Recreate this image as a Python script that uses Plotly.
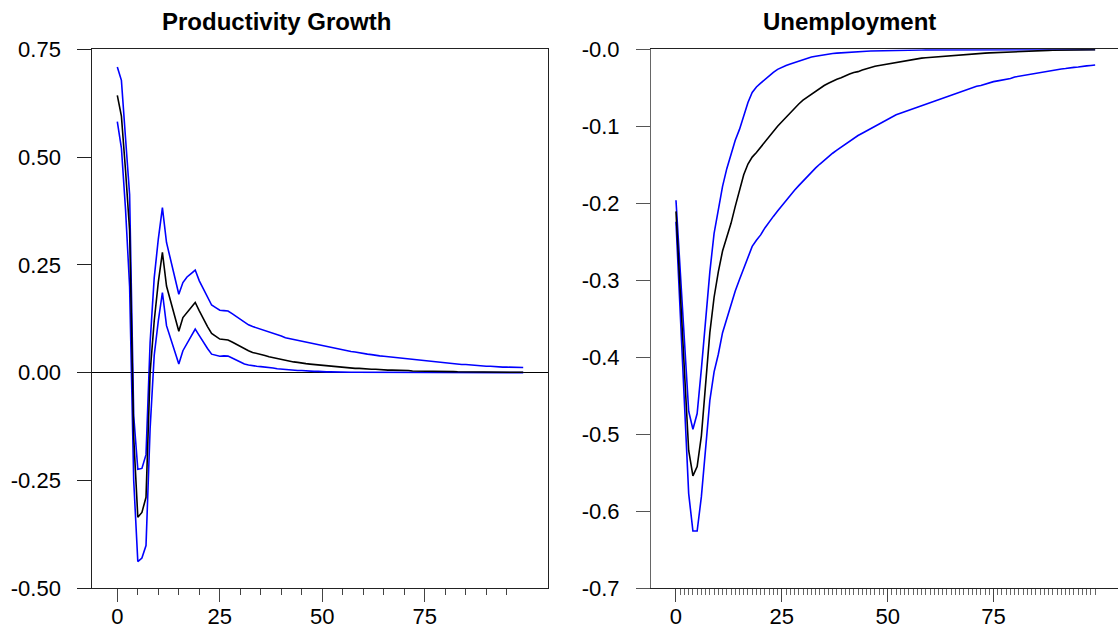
import plotly.graph_objects as go

# Horizon (periods after the shock)
horizon = list(range(100))

# Productivity growth: point response and error band
prod_resp = [
    0.643, 0.595, 0.470, 0.330, -0.150, -0.335, -0.324, -0.289, 0.000, 0.120,
    0.210, 0.279, 0.201, 0.166, 0.131, 0.096, 0.128, 0.140, 0.152, 0.163,
    0.1435, 0.124, 0.107, 0.091, 0.084, 0.078, 0.077, 0.0757, 0.071, 0.066,
    0.060, 0.055, 0.051, 0.047, 0.045, 0.043, 0.040, 0.037, 0.035, 0.032,
    0.030, 0.028, 0.027, 0.025, 0.024, 0.022, 0.021, 0.020, 0.019, 0.018,
    0.017, 0.016, 0.015, 0.014, 0.013, 0.012, 0.012, 0.011, 0.010, 0.010,
    0.009, 0.009, 0.008, 0.008, 0.007, 0.007, 0.006, 0.006, 0.006, 0.005,
    0.005, 0.005, 0.004, 0.004, 0.004, 0.004, 0.003, 0.003, 0.003, 0.003,
    0.003, 0.0025, 0.0025, 0.0022, 0.002, 0.002, 0.0018, 0.0017, 0.0016, 0.0015,
    0.0015, 0.0014, 0.0013, 0.0012, 0.0011, 0.001, 0.001, 0.001, 0.001, 0.001,
]
prod_upper = [
    0.709, 0.678, 0.545, 0.413, -0.100, -0.224, -0.222, -0.190, 0.070, 0.220,
    0.310, 0.383, 0.302, 0.262, 0.222, 0.182, 0.209, 0.222, 0.230, 0.238,
    0.213, 0.194, 0.174, 0.157, 0.151, 0.145, 0.144, 0.143, 0.137, 0.130,
    0.123, 0.116, 0.111, 0.107, 0.104, 0.101, 0.097, 0.094, 0.091, 0.088,
    0.085, 0.081, 0.079, 0.077, 0.075, 0.073, 0.070, 0.068, 0.066, 0.064,
    0.062, 0.060, 0.058, 0.056, 0.054, 0.052, 0.051, 0.049, 0.048, 0.046,
    0.045, 0.043, 0.042, 0.040, 0.039, 0.038, 0.037, 0.036, 0.035, 0.034,
    0.033, 0.031, 0.030, 0.029, 0.028, 0.027, 0.026, 0.025, 0.024, 0.023,
    0.022, 0.021, 0.021, 0.020, 0.019, 0.019, 0.018, 0.017, 0.016, 0.016,
    0.015, 0.015, 0.014, 0.014, 0.013, 0.013, 0.013, 0.012, 0.012, 0.012,
]
prod_lower = [
    0.582, 0.521, 0.380, 0.200, -0.250, -0.438, -0.430, -0.401, -0.130, 0.040,
    0.120, 0.186, 0.109, 0.080, 0.050, 0.020, 0.051, 0.068, 0.085, 0.101,
    0.086, 0.070, 0.056, 0.043, 0.040, 0.038, 0.039, 0.0385, 0.034, 0.029,
    0.024, 0.020, 0.018, 0.016, 0.015, 0.014, 0.013, 0.013, 0.011, 0.009,
    0.008, 0.007, 0.006, 0.006, 0.005, 0.005, 0.004, 0.004, 0.003, 0.003,
    0.002, 0.002, 0.002, 0.0015, 0.0015, 0.001, 0.001, 0.001, 0.001, 0.001,
    0.0008, 0.0008, 0.0007, 0.0007, 0.0006, 0.0005, 0.0005, 0.0005, 0.0004, 0.0004,
    0.0004, 0.0003, 0.0003, 0.0003, 0.0003, 0.0002, 0.0002, 0.0002, 0.0002, 0.0002,
    0.0002, 0.0002, 0.0001, 0.0001, 0.0001, 0.0001, 0.0001, 0.0001, 0.0001, 0.0001,
    0.0001, 0.0001, 0.0001, 0.0001, 0.0001, 0.0001, 0.0001, 0.0001, 0.0001, 0.0001,
]

# Unemployment: point response and error band
unemp_resp = [
    -0.2105, -0.320, -0.430, -0.521, -0.554, -0.542, -0.502, -0.433, -0.368, -0.322,
    -0.289, -0.262, -0.244, -0.226, -0.204, -0.183, -0.163, -0.149, -0.140, -0.134,
    -0.127, -0.120, -0.113, -0.107, -0.100, -0.094, -0.088, -0.082, -0.076, -0.071,
    -0.066, -0.062, -0.058, -0.054, -0.050, -0.047, -0.044, -0.041, -0.039, -0.037,
    -0.034, -0.032, -0.030, -0.029, -0.027, -0.025, -0.024, -0.022, -0.021, -0.020,
    -0.019, -0.0178, -0.017, -0.016, -0.015, -0.014, -0.013, -0.012, -0.0115, -0.011,
    -0.0105, -0.010, -0.0095, -0.009, -0.0085, -0.008, -0.0077, -0.0074, -0.007, -0.0066,
    -0.0062, -0.0058, -0.0054, -0.005, -0.0047, -0.0044, -0.0041, -0.0038, -0.0035, -0.0032,
    -0.003, -0.0027, -0.0025, -0.0023, -0.0021, -0.0019, -0.0017, -0.0016, -0.0014, -0.0013,
    -0.0012, -0.0011, -0.001, -0.0009, -0.0008, -0.0007, -0.0006, -0.0005, -0.0005, -0.0004,
]
unemp_upper = [
    -0.196, -0.285, -0.382, -0.470, -0.4935, -0.473, -0.415, -0.350, -0.289, -0.239,
    -0.206, -0.178, -0.155, -0.135, -0.118, -0.104, -0.086, -0.069, -0.056, -0.049,
    -0.044, -0.039, -0.034, -0.030, -0.026, -0.023, -0.021, -0.019, -0.017, -0.015,
    -0.013, -0.011, -0.010, -0.009, -0.008, -0.007, -0.006, -0.0055, -0.005, -0.0045,
    -0.004, -0.0037, -0.0034, -0.003, -0.0028, -0.0025, -0.0023, -0.0021, -0.0019, -0.0017,
    -0.0015, -0.0014, -0.0013, -0.0012, -0.0011, -0.001, -0.001, -0.0009, -0.0009, -0.0008,
    -0.0008, -0.0007, -0.0007, -0.0007, -0.0006, -0.0006, -0.0006, -0.0005, -0.0005, -0.0005,
    -0.0005, -0.0004, -0.0004, -0.0004, -0.0004, -0.0004, -0.0003, -0.0003, -0.0003, -0.0003,
    -0.0003, -0.0003, -0.0003, -0.0002, -0.0002, -0.0002, -0.0002, -0.0002, -0.0002, -0.0002,
    -0.0002, -0.0002, -0.0002, -0.0002, -0.0002, -0.0002, -0.0002, -0.0002, -0.0002, -0.0002,
]
unemp_lower = [
    -0.224, -0.340, -0.461, -0.577, -0.6256, -0.6256, -0.581, -0.516, -0.456, -0.419,
    -0.396, -0.368, -0.350, -0.331, -0.314, -0.299, -0.285, -0.270, -0.256, -0.248,
    -0.241, -0.232, -0.224, -0.217, -0.210, -0.203, -0.196, -0.190, -0.183, -0.177,
    -0.171, -0.165, -0.159, -0.154, -0.149, -0.144, -0.139, -0.135, -0.131, -0.127,
    -0.123, -0.119, -0.115, -0.112, -0.109, -0.106, -0.102, -0.099, -0.096, -0.093,
    -0.090, -0.087, -0.085, -0.083, -0.081, -0.079, -0.077, -0.075, -0.073, -0.071,
    -0.069, -0.067, -0.065, -0.063, -0.061, -0.059, -0.057, -0.055, -0.053, -0.052,
    -0.050, -0.048, -0.047, -0.045, -0.044, -0.042, -0.041, -0.040, -0.039, -0.038,
    -0.036, -0.035, -0.034, -0.033, -0.032, -0.031, -0.030, -0.029, -0.028, -0.027,
    -0.026, -0.0255, -0.025, -0.024, -0.0235, -0.023, -0.022, -0.0215, -0.021, -0.0204,
]

# Axis ticks and labels
x_major = [0, 25, 50, 75]
prod_ticks = [-0.50, -0.25, 0.00, 0.25, 0.50, 0.75]
prod_ticklabels = ["-0.50", "-0.25", "0.00", "0.25", "0.50", "0.75"]
unemp_ticks = [-0.7, -0.6, -0.5, -0.4, -0.3, -0.2, -0.1, 0.0]
unemp_ticklabels = ["-0.7", "-0.6", "-0.5", "-0.4", "-0.3", "-0.2", "-0.1", "-0.0"]
panel_titles = ["Productivity Growth", "Unemployment"]

FONT = "Liberation Sans, Arial, Helvetica, sans-serif"
W, H = 1118, 632
BLUE = "#0000ff"
LW = 1.6

fig = go.Figure()

for series, color in [(prod_upper, BLUE), (prod_lower, BLUE), (prod_resp, "black")]:
    fig.add_trace(go.Scatter(x=horizon, y=series, mode="lines",
                             line=dict(color=color, width=LW),
                             xaxis="x", yaxis="y", showlegend=False, hoverinfo="skip"))

for series, color in [(unemp_upper, BLUE), (unemp_lower, BLUE), (unemp_resp, "black")]:
    fig.add_trace(go.Scatter(x=horizon, y=series, mode="lines",
                             line=dict(color=color, width=LW),
                             xaxis="x2", yaxis="y2", showlegend=False, hoverinfo="skip"))

# Plot-area geometry in pixels
L1, R1 = 92.3, 548.0
L2, R2 = 651.0, 1118.0
TOP, BOT = 49.3, 588.3
ydom = [(H - BOT) / H, (H - TOP) / H]

tickfont = dict(family=FONT, size=22, color="black")

fig.update_layout(
    width=W, height=H,
    margin=dict(l=0, r=0, t=0, b=0, autoexpand=False),
    paper_bgcolor="white", plot_bgcolor="white",
    font=dict(family=FONT, color="black"),
    xaxis=dict(
        domain=[L1 / W, R1 / W], anchor="y", automargin=False,
        range=[-6.1, 105.05], tickvals=x_major,
        ticks="outside", ticklen=13, tickwidth=1, tickcolor="#444",
        minor=dict(tickvals=[v for v in range(5, 100, 5) if v % 25],
                   ticks="outside", ticklen=6, tickwidth=1, tickcolor="#444"),
        showline=True, linecolor="#222", linewidth=1, mirror=True,
        showgrid=False, zeroline=False, tickfont=tickfont, ticklabelstandoff=-5,
    ),
    yaxis=dict(
        domain=ydom, anchor="x", automargin=False,
        range=[-0.5, 0.75], tickvals=prod_ticks, ticktext=prod_ticklabels,
        ticks="outside", ticklen=14, tickwidth=1, tickcolor="#222",
        showline=True, linecolor="#222", linewidth=1, mirror=True,
        showgrid=False, zeroline=True, zerolinecolor="black", zerolinewidth=1,
        tickfont=tickfont, ticklabelstandoff=12,
    ),
    xaxis2=dict(
        domain=[L2 / W, R2 / W], anchor="y2", automargin=False,
        range=[-5.9, 104.4], tickvals=x_major,
        ticks="outside", ticklen=13, tickwidth=1, tickcolor="#444",
        minor=dict(tickvals=[v for v in range(1, 100) if v % 25],
                   ticks="outside", ticklen=6, tickwidth=1, tickcolor="#666"),
        showline=True, linecolor="#222", linewidth=1, mirror=True,
        showgrid=False, zeroline=False, tickfont=tickfont, ticklabelstandoff=-5,
    ),
    yaxis2=dict(
        domain=ydom, anchor="x2", automargin=False,
        range=[-0.7, 0.0], tickvals=unemp_ticks, ticktext=unemp_ticklabels,
        ticks="outside", ticklen=14, tickwidth=1, tickcolor="#555",
        showline=True, linecolor="#666", linewidth=1,
        showgrid=False, zeroline=False,
        tickfont=tickfont, ticklabelstandoff=12,
    ),
    annotations=[
        dict(text="<b>%s</b>" % panel_titles[0], x=276 / W, y=(H - 22) / H,
             xref="paper", yref="paper", xanchor="center", yanchor="middle",
             showarrow=False, font=dict(family=FONT, size=24, color="black")),
        dict(text="<b>%s</b>" % panel_titles[1], x=849 / W, y=(H - 22) / H,
             xref="paper", yref="paper", xanchor="center", yanchor="middle",
             showarrow=False, font=dict(family=FONT, size=24, color="black")),
    ],
)

fig.write_html("out.html")
